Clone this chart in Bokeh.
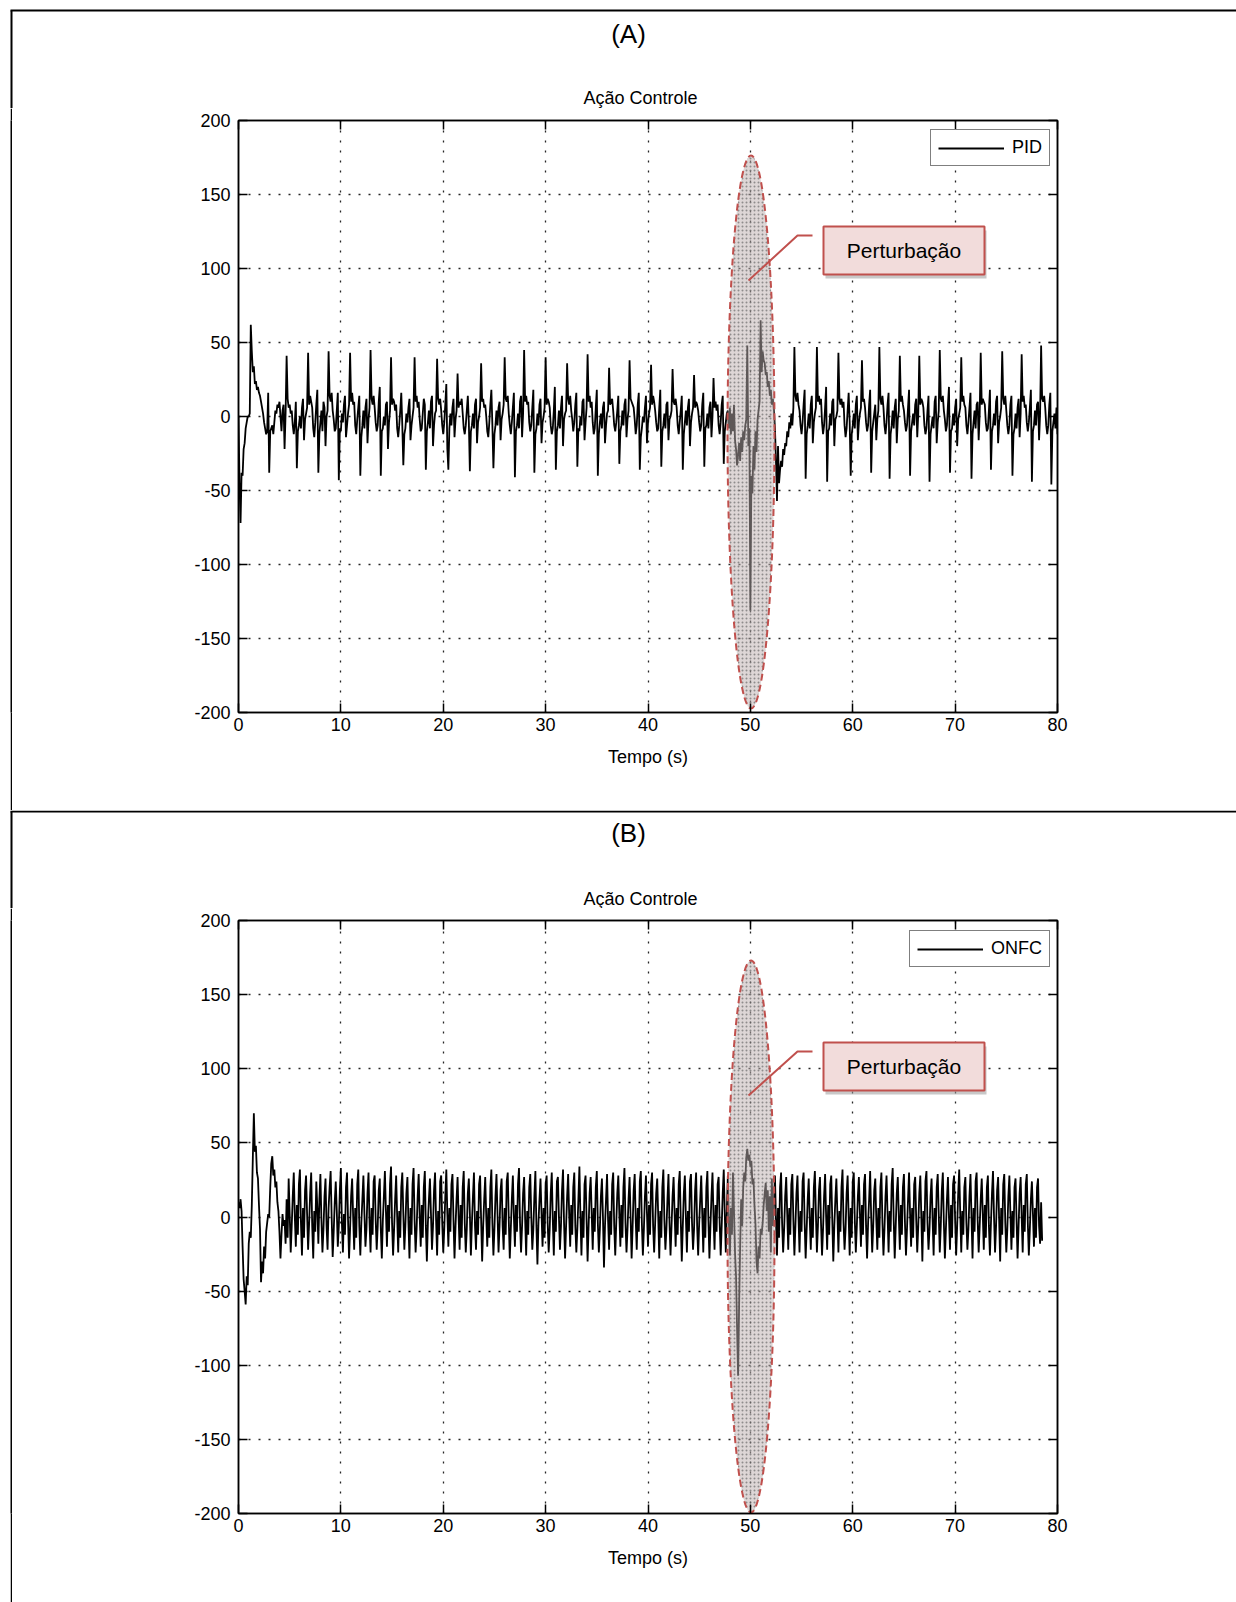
import numpy as np
from bokeh.plotting import figure
from bokeh.models import (Range1d, FixedTicker, LinearAxis, Label, Legend,
                          LegendItem, BoxAnnotation, Spacer)
from bokeh.layouts import column, row
from bokeh.core.properties import value
from bokeh.embed import file_html
from bokeh.resources import INLINE

# ---------------------------------------------------------------- data
SAMPLE_STEP = 0.1  # seconds between samples of the control signal

x_ticks = [0, 10, 20, 30, 40, 50, 60, 70, 80]
x_tick_labels = ["0", "10", "20", "30", "40", "50", "60", "70", "80"]
y_ticks = [-200, -150, -100, -50, 0, 50, 100, 150, 200]
y_tick_labels = ["-200", "-150", "-100", "-50", "0", "50", "100", "150", "200"]

# PID control action: start-up transient (0 .. 4.6 s)
pid_start = [0, -45, -72, -38, -40, -22, -18, -8, -4, 0,
             0, 2, 62, 44, 30, 34, 22, 24, 18, 20,
             16, 14, 10, 6, 2, -4, -8, -12, -10, 16,
             -38, -10, -8, -6, -12, -4, 4, 2, 8, 6,
             10, 0, -10, 4, 8, -22, 2]

# PID limit cycle before the disturbance, one list per oscillation
pid_cycles_before = [
    [41, 12, 6, 8, 2, 4, -6, -12, -4, 10, -35, -10, -6, 0, -8, 6, 12, -16, -2, 2, 6],
    [43, 8, 14, 10, 6, -8, -14, -4, 8, 18, -38, -12, -4, 4, -10, 10, 6, -20, 0, 4],
    [44, 14, 10, 16, 4, -2, -10, -8, 4, 16, -43, -8, -10, 2, -4, 8, 14, -14, -6, 2, 8],
    [43, 10, 16, 8, 10, -6, -12, -2, 6, 14, -40, -14, -6, 4, -8, 6, 12, -18, -2, 6],
    [45, 12, 8, 14, 6, -4, -10, -6, 10, 20, -40, -10, -8, 0, -6, 8, 10, -22, -4, 4],
    [40, 8, 12, 10, 4, 8, -8, -14, -6, 4, 16, -6, -33, -12, -8, 2, -4, 6, 12, -16, -6, 0, 6],
    [40, 10, 14, 6, 10, -2, -10, -8, 2, 12, 8, -36, -10, -4, 4, -8, 10, 14, -20, -6, 2, 4],
    [39, 12, 8, 12, 4, -6, -12, -4, 8, 22, -22, -36, -8, 2, -6, 6, 12, -14, -2, 4],
    [29, 6, 10, 8, 12, 2, -8, -12, -6, 4, 14, -4, -37, -10, -6, 2, -8, 8, 12, -18, -4, 0, 6],
    [36, 10, 12, 6, 8, 0, -10, -14, -4, 8, 18, -6, -35, -12, -6, 4, -6, 6, 10, -16, -2, 2, 8],
    [40, 12, 10, 14, 2, -6, -12, -4, 6, 16, -41, -10, -6, 2, -8, 10, 14, -14, 2],
    [45, 10, 14, 8, 10, -4, -10, -6, 6, 18, -38, -12, -8, 2, -6, 8, 12, -18, -4, 0, 6],
    [40, 8, 12, 10, 6, -6, -12, -8, 4, 20, -36, -10, -6, 4, -8, 6, 14, -20, -2, 2, 4],
    [36, 12, 8, 14, 4, -2, -10, -4, 8, 16, -34, -8, -10, 0, -6, 10, 12, -16, -4, 6],
    [42, 10, 14, 6, 10, -4, -12, -8, 6, 18, -40, -12, -4, 2, -8, 6, 10, -18, -6, 2, 4],
    [33, 8, 10, 12, 4, -6, -10, -4, 4, 14, -32, -10, -6, 4, -6, 8, 12, -14, -2, 4],
    [38, 12, 10, 8, 6, -2, -12, -6, 8, 16, -36, -14, -8, 0, -4, 6, 14, -18, -4, 2, 6],
    [35, 8, 14, 10, 4, -4, -10, -8, 6, 18, -34, -10, -6, 2, -8, 8, 10, -16, -2, 0, 4],
    [32, 10, 8, 12, 6, -6, -12, -4, 4, 14, -36, -12, -4, 4, -6, 6, 12, -20, -4, 2, 6],
    [28, 6, 10, 8, 4, -4, -10, -6, 8, 16, -34, -8, -6, 2, -8, 6, 10, -14, 0],
    [26, 6, 10, 4, 8, -6, -12, -4, 8, 14, -32, -10, -4, 2],
]

# PID response to the disturbance (47.8 .. 54.2 s)
pid_disturbance = [4, -8, 6, -12, 2, -10, 8, -16,
                   -22, -33, -26, -18, -30,
                   -14, -24, -10, -16, -6,
                   -2, 48, -20, -8,
                   -131, -40, -52, -20, -36, -10, -24, -2, 4, 10,
                   65, 30, 44, 38, 36, 28, 30, 20, 24, 14, 18, 8, 12, 4,
                   -8, -30, -57, -20, -45, -36, -30, -34, -22, -26,
                   -18, -20, -10, -14, -4, -8, 2, -6, 6]

# PID limit cycle after the disturbance
pid_cycles_after = [
    [47, 14, 10, 16, 8, 4, -6, -12, -4, 8, 18, -42, -12, -6, 2, -8, 8, 14, -18, -4, 2, 6],
    [47, 10, 14, 8, 12, -4, -12, -6, 6, 20, -44, -10, -8, 2, -6, 10, 12, -20, -2, 0, 4],
    [43, 12, 8, 12, 6, 10, -6, -14, -8, 4, 16, -4, -40, -12, -6, 2, -8, 8, 14, -16, -4, 2, 6],
    [38, 10, 12, 6, -4, -10, -6, 8, 18, -38, -10, -4, 2, 8, -16, -2, 4],
    [47, 12, 8, 14, 6, -6, -12, -4, 8, 16, -42, -12, -6, 4, -8, 6, 12, -18, -2, 4],
    [41, 10, 14, 8, 4, -4, -10, -6, 6, 18, -40, -10, -4, 2, -6, 8, 12, -14, 2],
    [41, 8, 12, 10, 6, -6, -12, -8, 4, 14, -44, -12, -6, 0, -8, 10, 14, -18, -4, 4],
    [45, 12, 10, 14, 4, -2, -10, -6, 8, 20, -38, -10, -8, 2, -6, 6, 12, -20, -2, 2, 6],
    [40, 10, 14, 8, 6, -6, -12, -4, 6, 16, -42, -12, -4, 4, -8, 8, 10, -16, 2],
    [43, 8, 12, 10, 8, -4, -10, -8, 4, 18, -36, -10, -6, 2, -6, 10, 14, -18, -4, 0, 6],
    [44, 12, 8, 14, 4, -6, -12, -6, 8, 14, -40, -12, -8, 2, -8, 6, 12, -14, 2],
    [42, 10, 14, 6, 8, -4, -10, -4, 6, 18, -44, -10, -6, 4, -6, 8, 10, -16, 2],
    [48, 12, 10, 14, 6, -6, -12, -6, 8, 16, -46, -10, -4, 2, -8, 6, -12],
]

# ONFC control action: start-up transient (0 .. 4.9 s)
onfc_start = [10, 6, 12, 4, -20, -42, -50, -59, -40, -46,
              -18, -10, -14, 8, 40, 70, 44, 48, 30, 26,
              8, -8, -44, -30, -38, -20, -28, -10, -4, 2,
              0, 20, 36, 41, 28, 32, 20, 24, 10, 4,
              -10, -28, -12, 2, -6, -2, -18, 12, -14, 26]

# ONFC oscillation before the disturbance, one list per second (5 .. 47.7 s)
onfc_rows_before = [
    [2, -24, -6, 14, 30, 0, -20, 8, -12, 22],
    [32, -4, -26, 6, -14, 18, 28, 2, -22, -4],
    [16, 30, -6, -28, 4, -10, 24, 6, -18, 12],
    [29, -2, -24, -8, 14, 26, -6, -22, 6, 20],
    [31, 0, -27, -10, 10, 24, 4, -20, -6, 18],
    [33, -4, -24, 2, -12, 20, 30, -2, -28, -8],
    [14, 26, 0, -22, 6, -14, 22, 32, -6, -26],
    [-4, 12, 28, 2, -20, -8, 16, 30, -4, -24],
    [6, -12, 24, 28, -2, -22, -6, 18, 26, -8],
    [-28, -2, 14, 31, 4, -20, 8, -10, 22, 34],
    [-4, -26, -8, 12, 28, 0, -24, 4, -14, 20],
    [30, 2, -22, -6, 16, 27, -4, -28, 6, -12],
    [22, 33, -2, -24, -8, 14, 29, 0, -20, 8],
    [-14, 20, 31, -6, -30, -4, 12, 26, 2, -22],
    [-6, 18, 30, -2, -26, 4, -12, 24, 28, -4],
    [-24, -8, 14, 32, 2, -20, 6, -10, 22, 29],
    [-2, -28, -6, 12, 27, 0, -22, 8, -14, 20],
    [31, -4, -24, -8, 16, 26, 2, -26, -4, 14],
    [30, -6, -22, 4, -12, 22, 28, -2, -30, -6],
    [12, 27, 0, -20, 6, -14, 20, 32, -4, -26],
    [-8, 14, 29, 2, -24, -6, 18, 26, -6, -22],
    [6, -12, 24, 30, -2, -28, -8, 12, 28, 0],
    [-20, 8, -10, 22, 33, -4, -24, -6, 16, 27],
    [-2, -26, 4, -12, 20, 29, 0, -22, -8, 14],
    [31, -6, -32, -4, 12, 26, 2, -20, 6, -14],
    [22, 28, -4, -24, -8, 16, 30, -2, -26, 4],
    [-10, 24, 27, 0, -22, -6, 18, 32, -4, -28],
    [-6, 14, 29, 2, -20, 8, -12, 20, 30, -6],
    [-24, -8, 12, 34, 0, -26, 4, -14, 22, 28],
    [-2, -30, -6, 16, 27, 2, -22, 6, -10, 20],
    [31, -4, -24, -8, 14, 26, 0, -34, -6, 12],
    [29, -2, -22, 4, -12, 22, 30, -6, -26, -4],
    [16, 28, 2, -20, 8, -14, 20, 33, -4, -24],
    [-8, 12, 27, 0, -28, -6, 18, 29, -2, -22],
    [6, -10, 24, 31, -4, -26, -8, 14, 28, 2],
    [-20, 8, -12, 22, 30, -6, -24, -4, 16, 26],
    [0, -28, 4, -14, 20, 32, -2, -22, -8, 12],
    [29, -4, -26, -6, 14, 27, 2, -20, 6, -12],
    [22, 31, -2, -30, -6, 16, 28, 0, -24, 4],
    [-10, 24, 29, -4, -22, -8, 18, 30, -6, -26],
    [-4, 12, 28, 2, -24, 6, -14, 20, 31, -2],
    [-28, -6, 14, 30, 0, -22, 8, -10, 22, 27],
    [-4, -26, -6, 16, 32, 2, -24, 4],
]

# ONFC response to the disturbance (47.8 .. 52.1 s)
onfc_disturbance = [28, -4, -26, 6, -12, 30, 4, -24, -40, -75,
                    -107, -60, -20, 12, -6, 20, 30, 24, 40, 46,
                    38, 42, 34, 38, 22, 26, 8, -5, -30, -38,
                    -20, -28, -8, -12, -4, 8, 16, 23, 4, 18,
                    -10, 14, -24, 26]

# ONFC oscillation after the disturbance (52.2 .. 78.5 s)
onfc_rows_after = [
    [-6, 12, 28, -2, -26, 6, -14, 20],
    [30, -4, -24, -8, 14, 27, 2, -22, 6, -12],
    [22, 29, -2, -26, -6, 16, 28, 0, -24, 4],
    [-10, 24, 30, -4, -28, -8, 12, 26, -2, -22],
    [6, -14, 20, 31, 2, -24, -6, 18, 27, -4],
    [-26, -8, 14, 29, 0, -22, 8, -12, 22, 28],
    [-2, -30, -6, 12, 26, 2, -24, 4, -10, 20],
    [32, -4, -22, -8, 16, 28, 0, -26, 6, -14],
    [24, 30, -2, -24, -6, 14, 27, 2, -20, 8],
    [-12, 22, 29, -6, -28, -4, 12, 31, 0, -24],
    [-6, 18, 26, -2, -22, 6, -14, 20, 30, -4],
    [-26, -8, 14, 28, 2, -24, 4, -10, 22, 33],
    [-2, -28, -6, 16, 27, 0, -22, 8, -12, 20],
    [29, -4, -26, -8, 12, 30, 2, -20, 6, -14],
    [22, 27, -2, -24, -6, 16, 28, 0, -30, 4],
    [-10, 24, 31, -4, -22, -8, 14, 26, -2, -26],
    [6, -12, 20, 29, 2, -24, -6, 18, 30, -4],
    [-28, -8, 12, 27, 0, -22, 8, -14, 22, 28],
    [-2, -26, -6, 16, 32, 2, -24, 4, -12, 20],
    [27, -4, -22, -8, 14, 29, 0, -28, 6, -10],
    [24, 30, -2, -24, -6, 12, 26, 2, -22, 8],
    [-14, 20, 28, -6, -26, -4, 16, 31, 0, -24],
    [-6, 18, 27, -2, -30, 6, -12, 22, 29, -4],
    [-24, -8, 14, 28, 2, -22, 4, -14, 20, 26],
    [-2, -28, -6, 16, 27, 0, -24, 8, -10, 22],
    [29, -4, -26, -8, 12, 24, 2, -20, 6, -14],
    [20, 26, -6, -18, 10, -16],
]


def joined(*parts):
    out = []
    for part in parts:
        if part and isinstance(part[0], list):
            for chunk in part:
                out.extend(chunk)
        else:
            out.extend(part)
    return out


pid_values = joined(pid_start, pid_cycles_before, pid_disturbance, pid_cycles_after)
onfc_values = joined(onfc_start, onfc_rows_before, onfc_disturbance, onfc_rows_after)

# ---------------------------------------------------------------- styling
FONT = "Liberation Sans"
RED = "#c0504d"
PAGE_W = 1236
RULE_X = 10          # left rule of the surrounding table
RULE_W = 2
STRIP_W = 12         # spacer + rule + gap to the left of each panel
FRAME_L, FRAME_R = 238, 1057


def blank_canvas(width, height, fill="white"):
    c = figure(width=width, height=height, x_range=Range1d(0, width),
               y_range=Range1d(height, 0), output_backend="svg",
               toolbar_location=None, x_axis_type=None, y_axis_type=None,
               min_border=0, outline_line_color=None,
               background_fill_color=fill, border_fill_color=fill)
    c.grid.visible = False
    return c


def make_header(height, tag, tag_y, title_y, rule_y):
    h = blank_canvas(PAGE_W, height)
    h.segment(x0=[RULE_X, RULE_X + 1], y0=[rule_y, rule_y],
              x1=[PAGE_W, RULE_X + 1], y1=[rule_y, height],
              line_color="black", line_width=RULE_W)
    h.text(x=[628], y=[tag_y], text=[tag], text_font=value(FONT),
           text_font_size="26px", text_color="black",
           text_align="center", text_baseline="middle")
    h.text(x=[640], y=[title_y], text=["Ação Controle"], text_font=value(FONT),
           text_font_size="18px", text_color="black",
           text_align="center", text_baseline="middle")
    return h


def left_rule(height):
    # a spacer, a solid black 2px canvas for the table rule, and a 1px gap
    return [Spacer(width=RULE_X, height=height),
            blank_canvas(RULE_W, height, fill="black"),
            Spacer(width=STRIP_W - RULE_X - RULE_W, height=height)]


def make_panel(values, name, canvas_top, height, frame_top, frame_bottom, layout):
    t = np.arange(len(values)) * SAMPLE_STEP
    width = PAGE_W - STRIP_W
    p = figure(width=width, height=height,
               x_range=Range1d(0, 80), y_range=Range1d(-200, 200),
               output_backend="svg", toolbar_location=None,
               min_border_left=FRAME_L - STRIP_W,
               min_border_right=PAGE_W - FRAME_R,
               min_border_top=frame_top - canvas_top,
               min_border_bottom=canvas_top + height - frame_bottom,
               background_fill_color="white", border_fill_color="white")

    def px(xp, yp):
        # page position -> data coordinates of this panel
        x = (xp - FRAME_L) / (FRAME_R - FRAME_L) * 80
        y = 200 - (yp - frame_top) / (frame_bottom - frame_top) * 400
        return x, y

    p.outline_line_color = "black"
    p.outline_line_width = 1.5

    bottom_axis = p.below[0]
    left_axis = p.left[0]
    top_axis = LinearAxis()
    right_axis = LinearAxis()
    p.add_layout(top_axis, "above")
    p.add_layout(right_axis, "right")

    for ax, ticks, labels in ((bottom_axis, x_ticks, x_tick_labels),
                              (top_axis, x_ticks, x_tick_labels),
                              (left_axis, y_ticks, y_tick_labels),
                              (right_axis, y_ticks, y_tick_labels)):
        ax.ticker = FixedTicker(ticks=ticks)
        ax.major_label_overrides = dict(zip(ticks, labels))
        ax.major_tick_in = 9
        ax.major_tick_out = 0
        ax.minor_tick_line_color = None
        ax.axis_line_width = 1.5
        ax.axis_line_color = "black"
        ax.major_tick_line_color = "black"
        ax.major_tick_line_width = 1.5
        ax.major_label_text_font = FONT
        ax.major_label_text_font_size = "18px"
        ax.major_label_text_color = "black"
    # mirrored tick marks only, no numbers on the top and right sides
    for ax in (top_axis, right_axis):
        ax.major_label_text_color = None
        ax.major_label_text_font_size = "1px"
        ax.major_label_standoff = 0
    bottom_axis.major_label_standoff = 5
    left_axis.major_label_standoff = 8
    bottom_axis.axis_label = "Tempo (s)"
    bottom_axis.axis_label_text_font = FONT
    bottom_axis.axis_label_text_font_size = "18px"
    bottom_axis.axis_label_text_font_style = "normal"
    bottom_axis.axis_label_text_color = "black"
    bottom_axis.axis_label_standoff = 13

    for grid, ticks in ((p.xgrid[0], x_ticks), (p.ygrid[0], y_ticks)):
        grid.ticker = FixedTicker(ticks=ticks)
        grid.grid_line_color = "black"
        grid.grid_line_dash = "2 8"
        grid.grid_line_width = 1.3
        grid.grid_line_alpha = 0.85

    line = p.line(t, values, line_color="black", line_width=1.8)

    # disturbance highlight
    ex_l, ey_t = px(layout["ell"][0], layout["ell"][1])
    ex_r, ey_b = px(layout["ell"][2], layout["ell"][3])
    p.ellipse(x=[(ex_l + ex_r) / 2], y=[(ey_t + ey_b) / 2],
              width=[ex_r - ex_l], height=[ey_t - ey_b],
              fill_color="#bcaeae", fill_alpha=0.5,
              hatch_pattern="dot", hatch_scale=4, hatch_color="#5a5a5a",
              hatch_alpha=0.6, hatch_weight=1,
              line_color=RED, line_width=2, line_dash="7 4")

    # callout leader
    lx, ly = zip(*[px(a, b) for a, b in layout["leader"]])
    p.line(list(lx), list(ly), line_color=RED, line_width=2)

    bl, bt = px(layout["box"][0], layout["box"][1])
    br, bb = px(layout["box"][2], layout["box"][3])
    sl, st = px(layout["box"][0] + 2, layout["box"][1] + 4)
    sr, sb = px(layout["box"][2] + 2, layout["box"][3] + 4)
    p.add_layout(BoxAnnotation(left=sl, right=sr, top=st, bottom=sb,
                               fill_color="#9a9a9a", fill_alpha=0.55,
                               line_color=None))
    p.add_layout(BoxAnnotation(left=bl, right=br, top=bt, bottom=bb,
                               fill_color="#f2dcdb", fill_alpha=1.0,
                               line_color=RED, line_width=2, line_alpha=1.0))
    p.add_layout(Label(x=(bl + br) / 2, y=(bt + bb) / 2, text="Perturbação",
                       text_font=FONT, text_font_size="21px",
                       text_color="black", text_align="center",
                       text_baseline="middle"))

    legend = Legend(items=[LegendItem(label=name, renderers=[line])],
                    location=layout["legend"], padding=7, spacing=0, margin=0,
                    glyph_width=66, glyph_height=14, label_height=14,
                    label_standoff=8, label_text_font=FONT,
                    label_text_font_size="18px", label_text_color="black",
                    border_line_color="black", border_line_width=1.3,
                    background_fill_color="white", background_fill_alpha=1.0)
    p.add_layout(legend)
    return p


# annotation geometry, in page pixels
layout_a = {
    "ell": (727, 155, 774, 708),
    "leader": [(812, 235), (797, 235), (748, 280)],
    "box": (823, 226, 984, 274),
    "legend": (692, 546),
}
layout_b = {
    "ell": (727, 960, 774, 1512),
    "leader": [(812, 1051), (797, 1051), (748, 1095)],
    "box": (823, 1042, 984, 1090),
    "legend": (671, 546),
}

header_a = make_header(108, "(A)", 33, 97, 10)
panel_a = make_panel(pid_values, "PID", 108, 702, 120, 712, layout_a)
header_b = make_header(98, "(B)", 22.5, 88, 1)
panel_b = make_panel(onfc_values, "ONFC", 908, 694, 920, 1513, layout_b)

page = column(header_a,
              row(*left_rule(702), panel_a, spacing=0),
              header_b,
              row(*left_rule(694), panel_b, spacing=0),
              spacing=0)
open("out.html", "w").write(file_html(page, INLINE))
